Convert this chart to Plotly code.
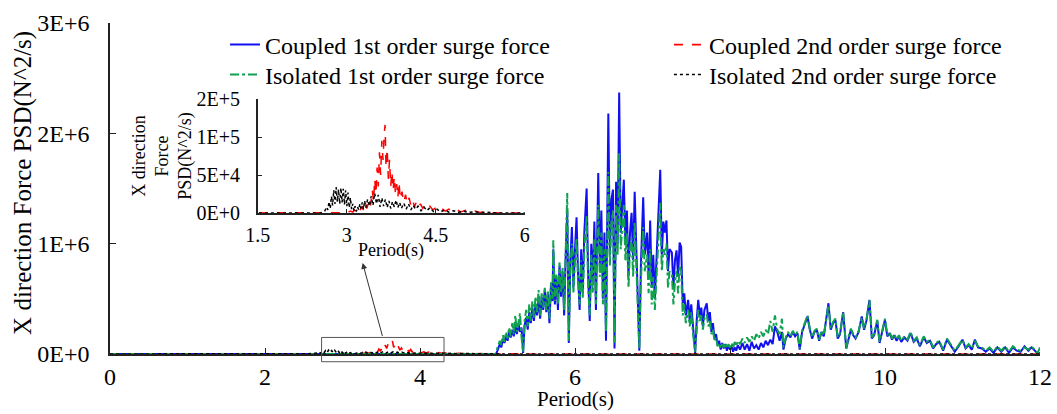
import plotly.graph_objects as go

# ---------------- data ----------------
MEGA = 1e6

# first-order surge force spectra (period in s, PSD in 1E+6 N^2/s)
period_1st = [
    0.00, 4.98, 5.00, 5.03, 5.05, 5.07, 5.09, 5.11, 5.13, 5.15,
    5.17, 5.19, 5.21, 5.23, 5.25, 5.27, 5.29, 5.31, 5.33, 5.35,
    5.37, 5.39, 5.41, 5.43, 5.45, 5.47, 5.49, 5.51, 5.53, 5.55,
    5.57, 5.59, 5.61, 5.63, 5.65, 5.67, 5.69, 5.71, 5.72, 5.74,
    5.76, 5.78, 5.80, 5.82, 5.84, 5.86, 5.88, 5.90, 5.92, 5.94,
    5.96, 5.98, 6.00, 6.02, 6.04, 6.06, 6.08, 6.10, 6.12, 6.15,
    6.17, 6.19, 6.21, 6.23, 6.25, 6.27, 6.30, 6.32, 6.34, 6.36,
    6.38, 6.40, 6.43, 6.45, 6.47, 6.49, 6.51, 6.53, 6.55, 6.57,
    6.59, 6.61, 6.63, 6.65, 6.67, 6.69, 6.71, 6.73, 6.75, 6.77,
    6.79, 6.81, 6.83, 6.85, 6.88, 6.90, 6.93, 6.95, 6.97, 6.99,
    7.01, 7.03, 7.05, 7.08, 7.10, 7.12, 7.14, 7.16, 7.18, 7.20,
    7.22, 7.25, 7.27, 7.29, 7.31, 7.33, 7.35, 7.37, 7.39, 7.41,
    7.43, 7.46, 7.48, 7.50, 7.52, 7.55, 7.57, 7.59, 7.61, 7.63,
    7.65, 7.67, 7.70, 7.72, 7.74, 7.76, 7.78, 7.80, 7.82, 7.84,
    7.86, 7.88, 7.90, 7.92, 7.94, 7.96, 7.98, 8.00, 8.02, 8.04,
    8.06, 8.08, 8.10, 8.13, 8.16, 8.19, 8.22, 8.25, 8.28, 8.31,
    8.34, 8.37, 8.40, 8.43, 8.46, 8.49, 8.52, 8.55, 8.58, 8.61,
    8.64, 8.67, 8.69, 8.72, 8.75, 8.78, 8.81, 8.84, 8.87, 8.90,
    8.93, 8.96, 9.00, 9.03, 9.06, 9.09, 9.12, 9.15, 9.18, 9.21,
    9.24, 9.27, 9.30, 9.33, 9.36, 9.39, 9.42, 9.46, 9.50, 9.53,
    9.56, 9.59, 9.62, 9.66, 9.70, 9.73, 9.76, 9.80, 9.83, 9.86,
    9.90, 9.93, 9.96, 10.00, 10.03, 10.06, 10.09, 10.12, 10.15, 10.18,
    10.21, 10.25, 10.29, 10.33, 10.37, 10.41, 10.45, 10.50, 10.54, 10.58,
    10.62, 10.66, 10.70, 10.75, 10.80, 10.85, 10.90, 10.95, 11.00, 11.04,
    11.08, 11.12, 11.16, 11.20, 11.25, 11.30, 11.35, 11.40, 11.45, 11.50,
    11.55, 11.60, 11.65, 11.70, 11.75, 11.80, 11.85, 11.89, 11.93, 11.97,
    12.00,
]

coupled_1st = [
    0, 0, 0.03, 0.09, 0.06, 0.14, 0.10, 0.17, 0.12, 0.20,
    0.15, 0.22, 0.16, 0.25, 0.18, 0.28, 0.20, 0.24, 0.01, 0.26,
    0.33, 0.22, 0.38, 0.28, 0.42, 0.30, 0.45, 0.35, 0.50, 0.32,
    0.52, 0.40, 0.58, 0.38, 0.55, 0.28, 0.62, 0.48, 0.95, 0.45,
    0.70, 0.40, 0.80, 0.52, 0.75, 0.35, 0.90, 1.30, 0.10, 0.85,
    1.15, 0.60, 0.95, 1.24, 0.70, 0.40, 0.95, 0.55, 1.10, 1.50,
    0.70, 0.30, 1.00, 0.65, 1.20, 0.40, 1.64, 0.80, 1.30, 0.50,
    1.10, 0.12, 2.18, 0.90, 1.40, 1.49, 0.05, 1.56, 1.00, 2.37,
    1.10, 1.40, 1.58, 1.00, 1.30, 0.70, 1.10, 1.28, 0.85, 1.47,
    0.90, 0.60, 0.03, 0.80, 1.42, 0.90, 1.10, 0.70, 1.21, 0.60,
    0.90, 0.50, 0.80, 1.30, 1.67, 0.90, 1.20, 1.10, 1.21, 0.75,
    0.95, 0.92, 0.60, 0.85, 0.94, 0.70, 1.01, 0.97, 0.46, 0.55,
    0.35, 0.49, 0.30, 0.45, 0.25, 0.01, 0.30, 0.49, 0.35, 0.42,
    0.25, 0.40, 0.46, 0.30, 0.38, 0.20, 0.28, 0.13, 0.18, 0.08,
    0.12, 0.04, 0.10, 0.05, 0.09, 0.03, 0.08, 0.04, 0.07, 0.02,
    0.06, 0.03, 0.08, 0.04, 0.10, 0.04, 0.09, 0.03, 0.11, 0.05,
    0.08, 0.04, 0.10, 0.06, 0.12, 0.08, 0.13, 0.09, 0.25, 0.20,
    0.12, 0.20, 0.04, 0.14, 0.18, 0.15, 0.20, 0.16, 0.19, 0.04,
    0.20, 0.26, 0.34, 0.22, 0.14, 0.20, 0.22, 0.12, 0.20, 0.16,
    0.30, 0.46, 0.22, 0.28, 0.31, 0.14, 0.18, 0.38, 0.05, 0.15,
    0.22, 0.17, 0.14, 0.20, 0.34, 0.22, 0.30, 0.49, 0.14, 0.17,
    0.30, 0.10, 0.19, 0.31, 0.16, 0.19, 0.13, 0.17, 0.12, 0.16,
    0.11, 0.15, 0.12, 0.19, 0.11, 0.14, 0.07, 0.15, 0.10, 0.12,
    0.05, 0.09, 0.11, 0.03, 0.13, 0.08, 0.02, 0.07, 0.13, 0.05,
    0.08, 0.04, 0.13, 0.06, 0.05, 0.02, 0.05, 0.01, 0.06, 0.02,
    0.06, 0.01, 0.06, 0.03, 0.02, 0.07, 0.03, 0.06, 0.03, 0.005,
    0.01,
]

isolated_1st = [
    0, 0, 0.06, 0.12, 0.08, 0.17, 0.11, 0.20, 0.14, 0.24,
    0.16, 0.28, 0.18, 0.35, 0.20, 0.30, 0.37, 0.15, 0.02, 0.30,
    0.40, 0.25, 0.45, 0.30, 0.48, 0.33, 0.52, 0.38, 0.58, 0.35,
    0.55, 0.42, 0.60, 0.40, 0.58, 0.32, 0.65, 0.50, 1.03, 0.48,
    0.72, 0.45, 0.83, 0.55, 0.78, 0.40, 0.95, 1.46, 0.12, 0.80,
    1.00, 0.55, 0.85, 1.05, 0.65, 0.45, 0.85, 0.50, 0.95, 1.25,
    0.60, 0.35, 0.90, 0.55, 1.05, 0.45, 1.35, 0.70, 1.10, 0.45,
    0.95, 0.20, 1.65, 0.80, 1.20, 1.30, 0.10, 1.35, 0.90, 1.82,
    0.95, 1.20, 1.35, 0.85, 1.10, 0.60, 0.95, 1.05, 0.70, 1.20,
    0.75, 0.50, 0.05, 0.65, 1.15, 0.75, 0.90, 0.55, 0.95, 0.45,
    0.70, 0.40, 0.65, 1.05, 1.37, 0.75, 0.95, 0.90, 1.00, 0.60,
    0.75, 0.72, 0.45, 0.65, 0.75, 0.55, 0.80, 0.75, 0.35, 0.45,
    0.28, 0.40, 0.25, 0.38, 0.20, 0.02, 0.25, 0.40, 0.30, 0.35,
    0.22, 0.32, 0.36, 0.25, 0.30, 0.18, 0.22, 0.12, 0.15, 0.07,
    0.10, 0.05, 0.09, 0.06, 0.10, 0.05, 0.09, 0.06, 0.10, 0.05,
    0.11, 0.07, 0.12, 0.09, 0.14, 0.10, 0.15, 0.11, 0.16, 0.12,
    0.18, 0.14, 0.20, 0.16, 0.22, 0.18, 0.30, 0.20, 0.35, 0.22,
    0.18, 0.32, 0.06, 0.15, 0.20, 0.16, 0.21, 0.17, 0.20, 0.05,
    0.21, 0.27, 0.35, 0.23, 0.15, 0.21, 0.23, 0.13, 0.21, 0.17,
    0.31, 0.44, 0.23, 0.29, 0.32, 0.15, 0.19, 0.38, 0.05, 0.16,
    0.23, 0.18, 0.15, 0.21, 0.33, 0.23, 0.31, 0.49, 0.15, 0.18,
    0.31, 0.11, 0.20, 0.32, 0.17, 0.20, 0.14, 0.18, 0.13, 0.17,
    0.12, 0.16, 0.13, 0.20, 0.12, 0.15, 0.08, 0.16, 0.11, 0.13,
    0.06, 0.10, 0.12, 0.04, 0.14, 0.09, 0.03, 0.08, 0.13, 0.06,
    0.09, 0.05, 0.12, 0.07, 0.06, 0.03, 0.06, 0.02, 0.07, 0.03,
    0.07, 0.02, 0.07, 0.04, 0.03, 0.06, 0.04, 0.07, 0.04, 0.01,
    0.06,
]

# second-order surge force spectra (period in s, PSD in N^2/s)
period_2nd_coupled = [
    0.00, 2.80, 2.86, 2.90, 2.94, 2.98, 3.02, 3.06, 3.10, 3.13,
    3.16, 3.19, 3.22, 3.25, 3.28, 3.31, 3.34, 3.37, 3.40, 3.43,
    3.45, 3.47, 3.49, 3.51, 3.53, 3.55, 3.57, 3.59, 3.61, 3.63,
    3.645, 3.66, 3.68, 3.70, 3.72, 3.74, 3.76, 3.78, 3.80, 3.82,
    3.84, 3.86, 3.88, 3.90, 3.93, 3.96, 3.99, 4.02, 4.05, 4.08,
    4.11, 4.14, 4.17, 4.20, 4.24, 4.28, 4.32, 4.36, 4.40, 4.45,
    4.50, 4.55, 4.60, 4.66, 4.72, 4.78, 4.85, 4.92, 5.00, 5.08,
    5.16, 5.25, 5.35, 5.45, 5.55, 5.65, 5.75, 12.00,
]
coupled_2nd = [
    0, 0, 200, 800, 300, 1500, 600, 2500, 1200, 4000,
    1500, 6000, 2500, 9000, 4000, 14000, 6000, 18000, 10000, 30000,
    15000, 45000, 25000, 60000, 35000, 80000, 50000, 95000, 70000, 105000,
    116000, 60000, 85000, 45000, 70000, 35000, 55000, 30000, 48000, 25000,
    38000, 20000, 41000, 18000, 28000, 14000, 24000, 12000, 20000, 10000,
    17000, 8000, 14000, 7000, 12000, 6000, 10000, 5000, 9000, 4000,
    7000, 3000, 6000, 2500, 5000, 2000, 4500, 1500, 3500, 1000,
    2500, 800, 1500, 300, 600, 100, 0, 0,
]

period_2nd_isolated = [
    0.00, 2.55, 2.60, 2.63, 2.66, 2.68, 2.70, 2.72, 2.74, 2.76,
    2.78, 2.80, 2.82, 2.84, 2.86, 2.88, 2.90, 2.92, 2.94, 2.96,
    2.98, 3.00, 3.02, 3.04, 3.06, 3.08, 3.10, 3.12, 3.14, 3.16,
    3.18, 3.20, 3.22, 3.24, 3.26, 3.28, 3.30, 3.32, 3.35, 3.38,
    3.41, 3.44, 3.47, 3.50, 3.53, 3.56, 3.59, 3.62, 3.65, 3.68,
    3.71, 3.74, 3.77, 3.80, 3.83, 3.86, 3.89, 3.92, 3.96, 4.00,
    4.04, 4.08, 4.12, 4.16, 4.20, 4.25, 4.30, 4.35, 4.40, 4.46,
    4.52, 4.58, 4.65, 4.72, 4.80, 4.88, 4.96, 5.05, 5.15, 5.25,
    5.35, 5.45, 5.55, 12.00,
]
isolated_2nd = [
    0, 0, 1000, 3000, 8000, 4000, 15000, 6000, 22000, 10000,
    30000, 12000, 34000, 15000, 31000, 12000, 33000, 14000, 32000, 11000,
    30000, 9000, 27000, 7000, 20000, 5000, 12000, 3000, 9000, 2000,
    8000, 4000, 12000, 6000, 14000, 5000, 16000, 7000, 18000, 9000,
    22000, 10000, 26000, 12000, 24000, 8000, 20000, 9000, 18000, 7000,
    16000, 6000, 15000, 8000, 17000, 7000, 14000, 6000, 13000, 5000,
    12000, 4000, 10000, 5000, 9000, 3000, 8000, 3000, 7000, 2000,
    5000, 1500, 4000, 1200, 3000, 800, 2500, 600, 1800, 400,
    1000, 200, 0, 0,
]

# axis ticks
main_x_ticks = [0, 2, 4, 6, 8, 10, 12]
main_y_ticks = [0, 1e6, 2e6, 3e6]
main_y_labels = ["0E+0", "1E+6", "2E+6", "3E+6"]
inset_x_ticks = [1.5, 3, 4.5, 6]
inset_x_labels = ["1.5", "3", "4.5", "6"]
inset_y_ticks = [0, 5e4, 1e5, 1.5e5]
inset_y_labels = ["0E+0", "5E+4", "1E+5", "2E+5"]

# zoom window shown in the inset (period range, PSD range)
zoom_period = [2.73, 4.31]
zoom_psd = [-0.07e6, 0.15e6]
# pointer from the zoom window to the inset
arrow_tail = (3.52, 0.15e6)
arrow_head = (3.26, 0.825e6)

assert len(period_1st) == len(coupled_1st) == len(isolated_1st)
assert len(period_2nd_coupled) == len(coupled_2nd)
assert len(period_2nd_isolated) == len(isolated_2nd)

# ---------------- styling ----------------
FONT = "Liberation Serif"
BLUE = "#1010F0"
RED = "#FF0000"
GREEN = "#10A050"
BLACK = "#000000"
AXIS = "#222222"

X_RANGE = [0, 12]
Y_RANGE = [0, 3e6]

fig = go.Figure()

fig.add_trace(go.Scatter(
    x=period_1st, y=[v * MEGA for v in coupled_1st],
    name="Coupled 1st order surge force", mode="lines", legend="legend",
    line=dict(color=BLUE, width=2)))
fig.add_trace(go.Scatter(
    x=period_2nd_coupled, y=coupled_2nd,
    name="Coupled 2nd order surge force", mode="lines", legend="legend2",
    line=dict(color=RED, width=1.6, dash="dash")))
fig.add_trace(go.Scatter(
    x=period_1st, y=[v * MEGA for v in isolated_1st],
    name="Isolated 1st order surge force", mode="lines", legend="legend3",
    line=dict(color=GREEN, width=2, dash="dashdot")))
fig.add_trace(go.Scatter(
    x=period_2nd_isolated, y=isolated_2nd,
    name="Isolated 2nd order surge force", mode="lines", legend="legend4",
    line=dict(color=BLACK, width=1.6, dash="dot")))

# inset: second-order spectra
fig.add_trace(go.Scatter(
    x=period_2nd_coupled, y=coupled_2nd, xaxis="x2", yaxis="y2",
    mode="lines", showlegend=False,
    line=dict(color=RED, width=1.5, dash="dash")))
fig.add_trace(go.Scatter(
    x=period_2nd_isolated, y=isolated_2nd, xaxis="x2", yaxis="y2",
    mode="lines", showlegend=False,
    line=dict(color=BLACK, width=1.5, dash="dot")))

axis_common = dict(showgrid=False, zeroline=False, showline=True,
                   linecolor=AXIS, linewidth=1.5, ticks="inside",
                   tickcolor=AXIS, tickwidth=1.2, automargin=False)

main_font = dict(family=FONT, size=24, color="black")
title_font = dict(family=FONT, size=21, color="black")
inset_font = dict(family=FONT, size=20, color="black")
inset_title_font = dict(family=FONT, size=18, color="black")


def legend_box(x, y):
    return dict(x=x, y=y, xanchor="left", yanchor="middle",
                bgcolor="rgba(0,0,0,0)", font=main_font, itemwidth=30)


fig.update_layout(
    width=1057, height=414,
    margin=dict(l=110, r=17, t=23, b=60),
    paper_bgcolor="white", plot_bgcolor="white",
    font=main_font,
    xaxis=dict(range=X_RANGE, tickvals=main_x_ticks, ticklen=6,
               tickfont=main_font, ticklabelstandoff=0, **axis_common),
    yaxis=dict(range=Y_RANGE, tickvals=main_y_ticks, ticktext=main_y_labels,
               ticklen=6, tickfont=main_font, ticklabelstandoff=14,
               **axis_common),
    xaxis2=dict(domain=[0.159, 0.446], anchor="y2", range=[1.5, 6],
                tickvals=inset_x_ticks, ticktext=inset_x_labels, ticklen=4,
                tickfont=inset_font, ticklabelstandoff=3, **axis_common),
    yaxis2=dict(domain=[0.426, 0.770], anchor="x2", range=[0, 1.5e5],
                tickvals=inset_y_ticks, ticktext=inset_y_labels, ticklen=4,
                title=dict(text="X direction<br>Force<br>PSD(N^2/s)",
                           standoff=0, font=inset_title_font),
                tickfont=inset_font, ticklabelstandoff=12, **axis_common),
    legend=legend_box(0.1237, 0.9335),
    legend2=legend_box(0.601, 0.9335),
    legend3=legend_box(0.1237, 0.843),
    legend4=legend_box(0.601, 0.843),
    showlegend=True,
)

# axis titles placed tight against the tick labels
fig.add_annotation(text="Period(s)", xref="paper", yref="paper",
                   x=0.5, y=-0.175, xanchor="center", yanchor="bottom",
                   showarrow=False, font=title_font, borderpad=0)
fig.add_annotation(text="X direction Force PSD(N^2/s)", xref="paper",
                   yref="paper", x=-0.0935, y=0.517, textangle=-90,
                   xanchor="center", yanchor="middle", showarrow=False,
                   font=dict(family=FONT, size=25, color="black"))
fig.add_annotation(text="Period(s)", xref="paper", yref="paper",
                   x=0.302, y=0.314, xanchor="center", yanchor="middle",
                   showarrow=False, font=inset_title_font)


def to_paper_x(v):
    return (v - X_RANGE[0]) / (X_RANGE[1] - X_RANGE[0])


def to_paper_y(v):
    return (v - Y_RANGE[0]) / (Y_RANGE[1] - Y_RANGE[0])


# zoom window frame on the main axes
fig.add_shape(type="rect", xref="paper", yref="paper",
              x0=to_paper_x(zoom_period[0]), x1=to_paper_x(zoom_period[1]),
              y0=to_paper_y(zoom_psd[0]), y1=to_paper_y(zoom_psd[1]),
              line=dict(color="#555555", width=1), fillcolor="rgba(0,0,0,0)")

# arrow from the frame up to the inset
fig.add_annotation(xref="x", yref="y", axref="x", ayref="y",
                   x=arrow_head[0], y=arrow_head[1],
                   ax=arrow_tail[0], ay=arrow_tail[1], text="",
                   showarrow=True, arrowhead=2, arrowsize=1.2,
                   arrowwidth=1, arrowcolor="#333333")

fig.write_html("out.html")
